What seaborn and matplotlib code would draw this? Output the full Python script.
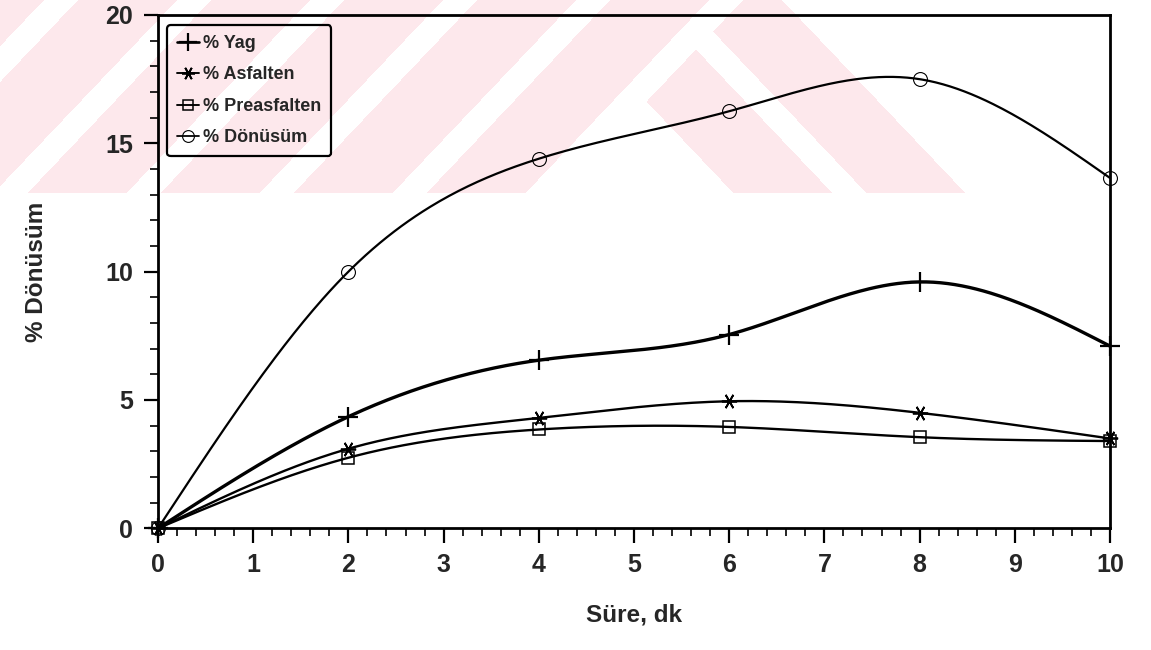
import numpy as np
import matplotlib
matplotlib.use("Agg")
import matplotlib.pyplot as plt
from matplotlib.lines import Line2D
from matplotlib.ticker import MultipleLocator
import seaborn as sns

# Reaction time (min) and conversion percentages per product fraction
time = [0, 2, 4, 6, 8, 10]
yag = [0, 4.35, 6.55, 7.55, 9.6, 7.1]
asfalten = [0, 3.1, 4.3, 4.95, 4.5, 3.5]
preasfalten = [0, 2.75, 3.85, 3.95, 3.55, 3.4]
donusum = [0, 10.0, 14.4, 16.25, 17.5, 13.65]

labels = ["% Yag", "% Asfalten", "% Preasfalten", "% Dönüsüm"]
x_ticks = [0, 1, 2, 3, 4, 5, 6, 7, 8, 9, 10]
y_ticks = [0, 5, 10, 15, 20]

sns.set_style("ticks")
plt.rcParams["font.family"] = ["Liberation Sans", "DejaVu Sans"]
plt.rcParams["font.weight"] = "bold"


def natural_spline(x, y, xs):
    """Natural cubic spline through (x, y), evaluated at xs."""
    x = np.asarray(x, float)
    y = np.asarray(y, float)
    n = len(x)
    h = np.diff(x)
    A = np.zeros((n, n))
    r = np.zeros(n)
    A[0, 0] = A[-1, -1] = 1.0
    for i in range(1, n - 1):
        A[i, i - 1] = h[i - 1]
        A[i, i] = 2 * (h[i - 1] + h[i])
        A[i, i + 1] = h[i]
        r[i] = 3 * ((y[i + 1] - y[i]) / h[i] - (y[i] - y[i - 1]) / h[i - 1])
    c = np.linalg.solve(A, r)
    b = (y[1:] - y[:-1]) / h - h * (2 * c[:-1] + c[1:]) / 3
    d = (c[1:] - c[:-1]) / (3 * h)
    idx = np.clip(np.searchsorted(x, xs) - 1, 0, n - 2)
    dx = xs - x[idx]
    return y[idx] + b[idx] * dx + c[idx] * dx ** 2 + d[idx] * dx ** 3


W, H = 1151, 650
fig = plt.figure(figsize=(W / 100, H / 100), dpi=100)

# Light striped emblem printed behind the upper part of the page
bg = fig.add_axes([0, 0, 1, 1], zorder=0)
bg.set_xlim(0, W)
bg.set_ylim(H, 0)
bg.axis("off")
band_h = 193
slope = 0.95
period = 133.0
gap = 34.0
yy, xx = np.mgrid[0:band_h, 0:W] + 0.5
u = xx + slope * yy
v = xx - slope * yy
left_part = (u < 709) & (np.mod(u - (460 - gap / 2), period) >= gap)
right_part = (u > 743) & (((v >= 550) & (v <= 649)) | ((v >= 683) & (v <= 782)))
mask = left_part | right_part
rgba = np.zeros((band_h, W, 4))
rgba[mask] = matplotlib.colors.to_rgba("#fde8ec")
bg.imshow(rgba, extent=(0, W, band_h, 0), aspect="auto", interpolation="nearest")

# Main plotting area
ax_l, ax_r, ax_t, ax_b = 158, 1110, 15, 528.3
ax = fig.add_axes([ax_l / W, 1 - ax_b / H, (ax_r - ax_l) / W, (ax_b - ax_t) / H], zorder=1)
ax.patch.set_alpha(0)

series = [
    (yag, dict(marker="+", ms=15, mew=1.6), 2.4),
    (asfalten, dict(marker=(6, 2, 30), ms=11, mew=1.3), 1.7),
    (preasfalten, dict(marker="s", ms=9, mew=1.1, mfc="none"), 1.7),
    (donusum, dict(marker="o", ms=10, mew=0.8, mfc="none"), 1.6),
]

xs = np.linspace(time[0], time[-1], 400)
handles = []
for (vals, mk, lw), lab in zip(series, labels):
    ys = natural_spline(time, vals, xs)
    sns.lineplot(x=xs, y=ys, ax=ax, color="black", linewidth=lw, sort=False,
                 estimator=None, legend=False)
    ax.plot(time, vals, linestyle="none", color="black", mec="black",
            clip_on=False, zorder=5, **mk)
    handles.append(Line2D([], [], color="black", linewidth=lw * 0.8, mec="black",
                          **{k: (vv * 0.85 if k == "ms" else vv) for k, vv in mk.items()}))

ax.set_xlim(0, 10)
ax.set_ylim(0, 20)
ax.set_xticks(x_ticks)
ax.set_yticks(y_ticks)
ax.xaxis.set_minor_locator(MultipleLocator(0.2))
ax.yaxis.set_minor_locator(MultipleLocator(1))

ax.tick_params(axis="x", which="major", direction="out", length=11, width=1.6,
               labelsize=18, pad=7, color="black")
ax.tick_params(axis="x", which="minor", direction="out", length=6, width=1.2, color="black")
ax.tick_params(axis="y", which="major", direction="out", length=10, width=1.6,
               labelsize=18, pad=8, color="black")
ax.tick_params(axis="y", which="minor", direction="out", length=6, width=1.2, color="black")
for lab in ax.get_xticklabels() + ax.get_yticklabels():
    lab.set_fontweight("bold")

for side in ["left", "right", "top", "bottom"]:
    ax.spines[side].set_visible(True)
    ax.spines[side].set_color("black")
    ax.spines[side].set_linewidth(2.0)

ax.set_xlabel("Süre, dk", fontsize=17.5, fontweight="bold")
ax.set_ylabel("% Dönüsüm", fontsize=17.5, fontweight="bold")
ax.xaxis.set_label_coords(0.5, -0.146)
ax.yaxis.set_label_coords(-0.116, 0.5)

leg = ax.legend(handles, labels, loc="upper left",
                bbox_to_anchor=(9 / (ax_r - ax_l), 1 - 10 / (ax_b - ax_t)),
                borderaxespad=0, handlelength=1.2, handletextpad=0.25,
                labelspacing=0.8, borderpad=0.55, fancybox=True, frameon=True,
                prop={"weight": "bold", "size": 13})
frame = leg.get_frame()
frame.set_edgecolor("black")
frame.set_linewidth(1.6)
frame.set_facecolor("none")
frame.set_alpha(None)

fig.savefig("out.png", dpi=100)
